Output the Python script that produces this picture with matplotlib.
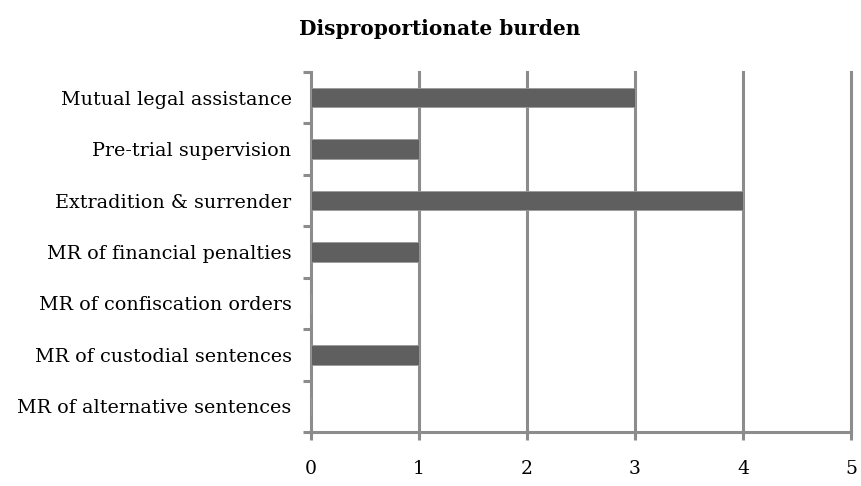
import matplotlib
matplotlib.use("Agg")
import matplotlib.pyplot as plt
from matplotlib.ticker import FixedLocator, NullFormatter

categories = [
    "Mutual legal assistance",
    "Pre-trial supervision",
    "Extradition & surrender",
    "MR of financial penalties",
    "MR of confiscation orders",
    "MR of custodial sentences",
    "MR of alternative sentences",
]
values = [3, 1, 4, 1, 0, 1, 0]
x_ticks = [0, 1, 2, 3, 4, 5]

plt.rcParams["font.family"] = ["DejaVu Serif"]

grey = "#8c8c8c"
bar_color = "#5f5f5f"

fig = plt.figure(figsize=(8.62, 4.86), dpi=100)
ax = fig.add_axes([311 / 862, 1 - 432 / 486, 540 / 862, 360 / 486])

n = len(categories)
ypos = list(range(n))[::-1]
ax.barh(ypos, values, height=0.38, color=bar_color, edgecolor="#9a9a9a",
        linewidth=0.6, zorder=3)

ax.set_xlim(0, 5)
ax.set_ylim(-0.5, n - 0.5)

ax.set_xticks(x_ticks)
ax.set_xticklabels([str(t) for t in x_ticks], fontsize=13.5)
ax.set_yticks(ypos)
ax.set_yticklabels(categories, fontsize=13.8)
ax.yaxis.set_minor_locator(FixedLocator([i - 0.5 for i in range(n + 1)]))
ax.yaxis.set_minor_formatter(NullFormatter())

ax.tick_params(axis="y", which="major", length=0, pad=14)
ax.tick_params(axis="y", which="minor", length=6, width=2.2, color=grey)
ax.tick_params(axis="x", which="major", length=6, width=2.2, color=grey, pad=14)

for x in x_ticks[1:]:
    ax.axvline(x, color=grey, linewidth=2.2, zorder=1, clip_on=False)

for side in ("top", "right"):
    ax.spines[side].set_visible(False)
for side in ("left", "bottom"):
    ax.spines[side].set_color(grey)
    ax.spines[side].set_linewidth(2.2)

fig.text(440 / 862, 1 - 29 / 486, "Disproportionate burden", ha="center",
         va="center", fontsize=14.5, fontweight="bold")

fig.savefig("out.png", dpi=100)
